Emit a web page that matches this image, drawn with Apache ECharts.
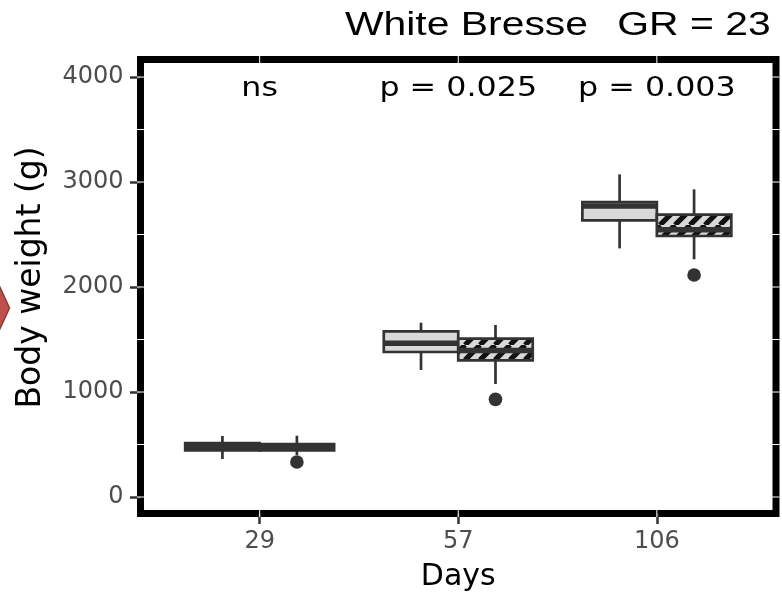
<!DOCTYPE html>
<html>
<head>
<meta charset="utf-8">
<script src="https://cdn.jsdelivr.net/npm/echarts@6/dist/echarts.min.js"></script>
<style>
html,body{margin:0;padding:0;background:#fff;}
#chart{width:782px;height:598px;}
</style>
</head>
<body>
<div id="chart"></div>
<script>
// ---------------- data ----------------
const days = ['29', '57', '106'];

// light (plain) boxes
const plainMin = [362, 1210, 2368];
const plainQ1 = [445, 1381, 2635];
const plainMedian = [480, 1464, 2771];
const plainQ3 = [514, 1578, 2810];
const plainMax = [581, 1660, 3073];

// hatched boxes
const hatchMin = [400, 1076, 2264];
const hatchQ1 = [443, 1302, 2486];
const hatchMedian = [470, 1395, 2546];
const hatchQ3 = [505, 1508, 2689];
const hatchMax = [584, 1638, 2930];

// outliers (hatched group)
const outlierDay = ['29', '57', '106'];
const outlierValue = [333, 930, 2114];

// significance labels
const pLabels = ['ns', 'p = 0.025', 'p = 0.003'];

// axis ticks
const yTicks = [0, 1000, 2000, 3000, 4000];
const yGrid = [0, 500, 1000, 1500, 2000, 2500, 3000, 3500, 4000];

// ---------------- styles ----------------
const DARK = '#333333';
const LIGHT = '#d9d9d9';
const BOX_W = 0.375;
const OFFSET = 0.1875;
const LW = 2.7;
const MED_LW = 5.4;
const LABEL_Y = 3884;
const STRETCH = 1.22;

function hatchCanvas() {
  const c = document.createElement('canvas');
  c.width = 15; c.height = 15;
  const g = c.getContext('2d');
  g.fillStyle = LIGHT;
  g.fillRect(0, 0, 15, 15);
  g.strokeStyle = '#111111';
  g.lineWidth = 5.2;
  for (let k = -1; k <= 1; k++) {
    g.beginPath();
    g.moveTo(15 * k, 15);
    g.lineTo(15 * k + 15, 0);
    g.stroke();
  }
  return c;
}
const hatchFill = { image: hatchCanvas(), repeat: 'repeat' };

function boxData(mn, q1, md, q3, mx) {
  return days.map((d, i) => [i + 1, mn[i], q1[i], md[i], q3[i], mx[i]]);
}

function boxRenderer(offset, fill) {
  return function (params, api) {
    const c = api.value(0);
    const x = api.coord([c + offset, 0])[0];
    const w = api.size([BOX_W, 0])[0];
    const y = k => api.coord([c, api.value(k)])[1];
    const yMin = y(1), yQ1 = y(2), yMed = y(3), yQ3 = y(4), yMax = y(5);
    const ln = (x1, y1, x2, y2, lw) => ({
      type: 'line', shape: { x1, y1, x2, y2 },
      style: { stroke: DARK, lineWidth: lw }
    });
    return {
      type: 'group',
      children: [
        ln(x, yMax, x, yQ3, LW),
        ln(x, yQ1, x, yMin, LW),
        {
          type: 'rect',
          shape: { x: x - w / 2, y: yQ3, width: w, height: yQ1 - yQ3 },
          style: { fill: fill, stroke: DARK, lineWidth: LW }
        },
        ln(x - w / 2, yMed, x + w / 2, yMed, MED_LW)
      ]
    };
  };
}

const gridData = yGrid.map(v => ['h', v]).concat(days.map((d, i) => ['v', i + 1]));

const chart = echarts.init(document.getElementById('chart'), null, { renderer: 'canvas' });

chart.setOption({
  animation: false,
  backgroundColor: '#ffffff',
  graphic: [
    {
      type: 'polygon',
      shape: { points: [[-2, 283], [9.5, 308], [-2, 333]] },
      style: { fill: '#c0504d', stroke: '#8e3a37', lineWidth: 1.5 }
    },
    {
      type: 'text', x: 466.5, y: 25.5, scaleX: STRETCH,
      style: {
        text: 'White Bresse', fontSize: 33.5, fontFamily: '"Liberation Sans", Arial, sans-serif',
        fill: '#000', align: 'center', verticalAlign: 'middle'
      }
    },
    {
      type: 'text', x: 694, y: 25.5, scaleX: STRETCH,
      style: {
        text: 'GR = 23', fontSize: 33.5, fontFamily: '"Liberation Sans", Arial, sans-serif',
        fill: '#000', align: 'center', verticalAlign: 'middle'
      }
    }
  ],
  grid: {
    left: 140.5, right: 6, top: 59.5, bottom: 84.5,
    show: true, borderColor: '#000000', borderWidth: 7,
    backgroundColor: '#ffffff',
    containLabel: false, outerBoundsMode: 'none'
  },
  xAxis: {
    type: 'value', min: 0.4, max: 3.6,
    name: 'Days', nameLocation: 'middle', nameGap: 49,
    nameTextStyle: { fontSize: 30, fontFamily: '"DejaVu Sans", sans-serif', color: '#000' },
    axisLine: { show: false, onZero: false },
    axisTick: { show: true, length: 10.5, customValues: [1, 2, 3], lineStyle: { color: DARK, width: 2.5 } },
    axisLabel: {
      customValues: [1, 2, 3], margin: 16,
      formatter: v => days[Math.round(v) - 1],
      fontSize: 24, fontFamily: '"DejaVu Sans", sans-serif', color: '#4d4d4d'
    },
    splitLine: { show: false }
  },
  yAxis: {
    type: 'value', min: -157, max: 4167,
    name: 'Body weight (g)', nameLocation: 'middle', nameGap: 93,
    nameTextStyle: {
      fontSize: 33, fontFamily: '"DejaVu Sans", sans-serif', color: '#000',
      padding: [0, 0, 0, 18]
    },
    axisLine: { show: false, onZero: false },
    axisTick: { show: true, length: 10.5, customValues: yTicks, lineStyle: { color: DARK, width: 2.5 } },
    axisLabel: {
      customValues: yTicks, margin: 17,
      formatter: v => String(v),
      fontSize: 24, fontFamily: '"DejaVu Sans", sans-serif', color: '#4d4d4d'
    },
    splitLine: { show: false }
  },
  series: [
    {
      type: 'custom', name: 'grid', silent: true,
      data: gridData,
      renderItem: function (params, api) {
        const cs = params.coordSys;
        const kind = gridData[params.dataIndex][0];
        const v = gridData[params.dataIndex][1];
        if (kind === 'h') {
          const y = api.coord([1, v])[1];
          return { type: 'line', shape: { x1: cs.x - 3.5, y1: y, x2: cs.x + cs.width + 3.5, y2: y },
                   style: { stroke: '#ffffff', lineWidth: 1 } };
        }
        const x = api.coord([v, 0])[0];
        return { type: 'line', shape: { x1: x, y1: cs.y - 3.5, x2: x, y2: cs.y + cs.height + 3.5 },
                 style: { stroke: '#ffffff', lineWidth: 1 } };
      }
    },
    {
      type: 'custom', name: 'plain',
      data: boxData(plainMin, plainQ1, plainMedian, plainQ3, plainMax),
      encode: { x: 0, y: [1, 2, 3, 4, 5] },
      renderItem: boxRenderer(-OFFSET, LIGHT)
    },
    {
      type: 'custom', name: 'hatched',
      data: boxData(hatchMin, hatchQ1, hatchMedian, hatchQ3, hatchMax),
      encode: { x: 0, y: [1, 2, 3, 4, 5] },
      renderItem: boxRenderer(OFFSET, hatchFill)
    },
    {
      type: 'custom', name: 'outliers',
      data: outlierDay.map((d, i) => [days.indexOf(d) + 1, outlierValue[i]]),
      encode: { x: 0, y: 1 },
      renderItem: function (params, api) {
        const p = api.coord([api.value(0) + OFFSET, api.value(1)]);
        return { type: 'circle', shape: { cx: p[0], cy: p[1], r: 6.8 }, style: { fill: DARK } };
      }
    },
    {
      type: 'custom', name: 'pvalues',
      data: pLabels.map((t, i) => [i + 1, LABEL_Y]),
      encode: { x: 0, y: 1 },
      renderItem: function (params, api) {
        const p = api.coord([api.value(0), api.value(1)]);
        return {
          type: 'text', x: p[0], y: p[1], scaleX: STRETCH,
          style: {
            text: pLabels[params.dataIndex], fontSize: 26,
            fontFamily: '"DejaVu Sans", sans-serif', fill: '#000',
            align: 'center', verticalAlign: 'middle'
          }
        };
      }
    }
  ]
});
</script>
</body>
</html>
